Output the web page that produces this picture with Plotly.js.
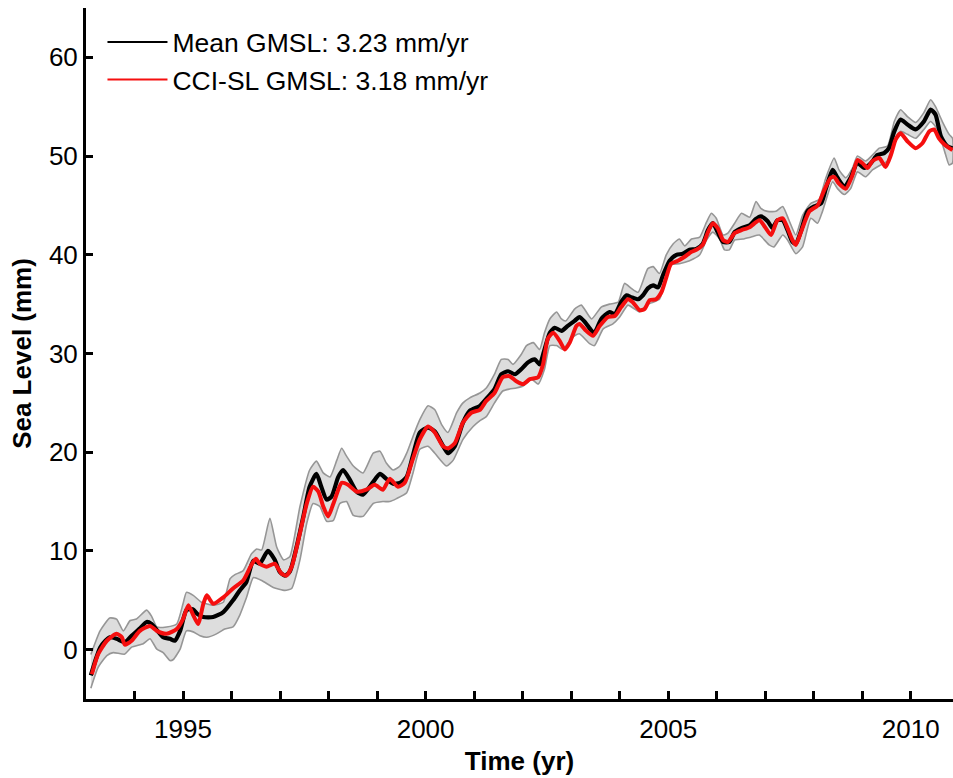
<!DOCTYPE html>
<html>
<head>
<meta charset="utf-8">
<script src="https://cdn.plot.ly/plotly-3.0.1.min.js"></script>
<style>
html,body{margin:0;padding:0;background:#ffffff;}
#chart{width:953px;height:778px;}
</style>
</head>
<body>
<div id="chart"></div>
<script>
// ---- Mean GMSL (black) ----
const meanTime = [1993.10,1993.20,1993.29,1993.40,1993.49,1993.63,1993.80,1993.94,1994.10,1994.25,1994.35,1994.49,1994.59,1994.73,1994.83,1994.94,1995.07,1995.20,1995.30,1995.42,1995.62,1995.83,1996.03,1996.17,1996.30,1996.45,1996.58,1996.75,1996.89,1996.99,1997.10,1997.20,1997.34,1997.48,1997.61,1997.75,1997.85,1997.96,1998.06,1998.20,1998.30,1998.44,1998.58,1998.71,1998.92,1999.06,1999.19,1999.33,1999.47,1999.61,1999.74,1999.88,2000.05,2000.19,2000.33,2000.46,2000.60,2000.77,2000.91,2001.12,2001.25,2001.42,2001.56,2001.70,2001.84,2001.97,2002.11,2002.25,2002.35,2002.45,2002.56,2002.66,2002.80,2002.93,2003.07,2003.17,2003.28,2003.42,2003.48,2003.62,2003.79,2003.90,2004.03,2004.14,2004.24,2004.38,2004.48,2004.58,2004.69,2004.79,2004.89,2005.03,2005.17,2005.30,2005.44,2005.58,2005.71,2005.82,2005.92,2006.02,2006.13,2006.26,2006.37,2006.51,2006.68,2006.80,2006.91,2007.05,2007.15,2007.25,2007.36,2007.46,2007.56,2007.63,2007.73,2007.87,2008.01,2008.15,2008.25,2008.39,2008.49,2008.63,2008.76,2008.90,2009.04,2009.18,2009.31,2009.45,2009.55,2009.66,2009.79,2009.93,2010.10,2010.27,2010.41,2010.51,2010.62,2010.75,2010.86];
const meanGMSL = [-2.6,-1.0,0.2,0.9,1.25,1.1,0.75,1.4,2.1,2.8,2.6,1.8,1.25,1.1,0.9,1.9,4.0,4.1,3.6,3.3,3.3,3.8,5.0,6.0,6.8,9.0,8.7,10.0,9.1,7.9,7.5,7.9,10.4,13.5,16.5,17.8,16.5,15.2,15.5,17.5,18.2,17.2,16.0,15.7,17.0,17.8,17.3,16.8,16.9,17.5,19.7,22.0,22.5,22.1,20.9,19.9,20.6,23.0,24.2,24.7,25.4,26.4,27.9,28.2,27.9,28.4,29.1,29.4,28.9,30.4,32.1,32.6,32.3,32.8,33.3,33.7,33.2,32.3,32.1,33.5,34.2,34.0,35.2,35.9,35.7,35.5,35.9,36.6,36.9,36.7,37.9,39.4,40.0,40.1,40.5,40.6,41.1,42.5,43.2,42.3,41.3,41.3,42.3,42.7,43.0,43.6,43.9,43.4,42.7,43.5,43.5,42.5,41.3,41.1,42.3,44.4,44.9,45.2,46.7,48.6,47.8,46.9,47.8,49.3,48.8,49.3,50.1,50.3,50.8,52.5,53.7,53.2,52.7,53.5,54.7,54.2,52.0,51.0,50.8];

// ---- CCI-SL GMSL (red) ----
const cciTime = [1993.12,1993.25,1993.43,1993.63,1993.74,1993.80,1993.94,1994.11,1994.32,1994.46,1994.66,1994.87,1995.00,1995.11,1995.21,1995.31,1995.42,1995.49,1995.62,1995.83,1996.03,1996.24,1996.41,1996.50,1996.58,1996.72,1996.89,1997.03,1997.13,1997.24,1997.41,1997.55,1997.68,1997.79,1997.89,1997.99,1998.10,1998.27,1998.40,1998.58,1998.78,1998.95,1999.12,1999.26,1999.43,1999.57,1999.71,1999.88,2000.05,2000.19,2000.36,2000.46,2000.60,2000.77,2000.94,2001.12,2001.25,2001.42,2001.59,2001.73,2001.87,2002.01,2002.15,2002.32,2002.42,2002.52,2002.63,2002.76,2002.87,2002.97,2003.11,2003.17,2003.31,2003.45,2003.59,2003.76,2003.90,2004.03,2004.17,2004.27,2004.41,2004.51,2004.62,2004.75,2004.86,2004.96,2005.06,2005.20,2005.34,2005.48,2005.58,2005.71,2005.82,2005.92,2006.02,2006.13,2006.23,2006.37,2006.51,2006.68,2006.88,2007.01,2007.12,2007.25,2007.36,2007.46,2007.56,2007.63,2007.73,2007.91,2008.08,2008.22,2008.35,2008.42,2008.52,2008.66,2008.80,2008.90,2009.00,2009.11,2009.21,2009.35,2009.48,2009.59,2009.69,2009.79,2009.93,2010.10,2010.24,2010.38,2010.48,2010.58,2010.69,2010.86];
const cciGMSL = [-2.5,-0.45,0.9,1.6,1.25,0.5,0.9,1.9,2.4,1.9,1.6,2.1,3.1,4.5,3.5,2.6,4.65,5.5,4.65,5.3,6.2,7.0,8.6,9.2,8.7,8.4,8.7,7.7,7.5,8.4,11.8,14.8,16.5,16.0,14.5,13.5,14.8,16.9,16.7,16.0,16.2,16.7,16.2,17.3,16.5,16.9,18.9,21.3,22.6,22.0,20.6,20.4,20.9,23.0,24.0,24.3,25.2,26.0,27.6,27.7,27.2,26.9,27.4,27.6,28.9,31.5,32.1,31.3,30.4,31.1,32.8,33.0,32.3,31.8,32.8,33.7,33.8,34.7,35.5,35.2,34.4,34.5,35.4,35.5,36.2,37.7,39.1,39.4,39.8,40.3,40.5,41.0,42.3,43.2,42.7,41.5,41.3,42.2,42.5,42.8,43.5,42.7,42.0,43.5,43.7,42.7,41.5,41.0,42.2,44.4,45.0,46.6,47.8,47.9,47.2,46.7,48.1,49.6,49.3,48.8,49.5,49.8,48.9,50.1,51.7,52.3,51.5,50.8,51.3,52.5,52.7,51.8,51.2,50.6];

// ---- Uncertainty envelope (grey) ----
const upperTime = [1993.10,1993.29,1993.49,1993.63,1993.77,1993.91,1994.04,1994.25,1994.35,1994.46,1994.66,1994.87,1995.00,1995.07,1995.21,1995.38,1995.62,1995.83,1995.97,1996.07,1996.24,1996.41,1996.52,1996.62,1996.79,1996.93,1997.07,1997.20,1997.41,1997.61,1997.75,1997.89,1998.03,1998.17,1998.27,1998.37,1998.51,1998.71,1998.92,1999.06,1999.19,1999.33,1999.47,1999.61,1999.74,1999.88,2000.05,2000.19,2000.33,2000.46,2000.64,2000.77,2000.91,2001.12,2001.25,2001.42,2001.56,2001.70,2001.80,2001.97,2002.08,2002.22,2002.35,2002.45,2002.56,2002.70,2002.80,2002.89,2003.07,2003.21,2003.42,2003.62,2003.79,2003.97,2004.10,2004.24,2004.38,2004.58,2004.69,2004.82,2004.96,2005.10,2005.23,2005.34,2005.48,2005.65,2005.79,2005.89,2005.99,2006.13,2006.23,2006.37,2006.51,2006.68,2006.81,2006.91,2007.05,2007.22,2007.36,2007.49,2007.63,2007.77,2007.94,2008.11,2008.25,2008.42,2008.52,2008.66,2008.80,2008.90,2009.07,2009.21,2009.35,2009.52,2009.66,2009.79,2009.93,2010.10,2010.27,2010.41,2010.51,2010.65,2010.79,2010.86];
const upperGMSL = [-0.5,1.9,3.2,3.1,1.9,2.95,3.1,4.0,3.4,2.3,2.3,2.6,4.65,5.8,5.5,4.8,4.5,4.8,7.2,7.6,8.0,9.7,10.2,10.1,13.3,10.4,9.1,9.4,14.5,18.2,19.1,17.9,17.5,19.2,20.4,19.6,18.6,17.9,19.9,20.1,18.9,18.2,18.6,19.9,21.6,23.3,24.7,24.3,22.8,22.0,24.0,25.0,25.5,26.0,26.5,27.9,29.4,29.4,28.9,29.9,30.8,31.1,30.4,32.1,33.5,34.2,33.5,33.3,34.5,34.9,33.5,34.7,35.0,35.2,37.1,36.6,36.2,38.6,38.8,38.1,40.0,41.1,41.6,40.9,41.6,41.8,43.3,44.2,43.7,42.0,42.2,43.2,44.2,43.8,45.4,44.7,44.4,44.4,44.9,43.5,42.0,44.0,45.2,45.6,47.8,49.8,48.6,47.8,48.8,50.0,49.5,50.1,50.8,51.0,53.5,54.7,54.0,53.4,54.4,55.7,55.0,53.5,52.2,51.8];
const lowerTime = [1993.10,1993.25,1993.43,1993.56,1993.80,1993.94,1994.18,1994.32,1994.46,1994.59,1994.73,1994.80,1994.94,1995.07,1995.21,1995.35,1995.49,1995.69,1995.86,1996.03,1996.17,1996.31,1996.45,1996.62,1996.86,1997.10,1997.24,1997.41,1997.55,1997.68,1997.82,1997.96,1998.10,1998.23,1998.37,1998.51,1998.71,1998.92,1999.12,1999.26,1999.40,1999.61,1999.74,1999.88,2000.05,2000.19,2000.43,2000.57,2000.77,2000.98,2001.12,2001.25,2001.42,2001.59,2001.73,2001.87,2002.01,2002.18,2002.32,2002.45,2002.56,2002.70,2002.83,2002.97,2003.07,2003.17,2003.38,2003.48,2003.66,2003.86,2004.00,2004.17,2004.31,2004.41,2004.55,2004.69,2004.82,2004.96,2005.06,2005.23,2005.44,2005.65,2005.79,2005.92,2006.06,2006.16,2006.26,2006.37,2006.54,2006.71,2006.88,2007.08,2007.18,2007.36,2007.46,2007.63,2007.77,2007.94,2008.08,2008.18,2008.39,2008.49,2008.63,2008.76,2008.90,2009.07,2009.21,2009.38,2009.52,2009.66,2009.79,2009.93,2010.10,2010.27,2010.41,2010.55,2010.72,2010.79,2010.86];
const lowerGMSL = [-3.9,-1.8,-0.6,-0.3,-0.45,0.25,0.6,1.1,0.05,-0.3,-1.1,-1.0,0.05,1.9,1.8,1.4,1.25,1.6,2.1,2.3,3.5,5.3,7.3,7.0,6.3,6.0,6.2,9.1,12.8,14.8,14.5,13.0,13.1,14.8,15.0,13.6,13.5,14.8,15.0,15.0,15.3,15.9,17.9,20.3,20.6,19.9,18.6,19.2,21.3,22.6,23.2,23.6,25.0,26.2,26.4,26.5,26.7,27.4,26.9,28.4,30.8,30.8,30.4,31.3,31.8,32.0,31.0,30.8,32.5,33.0,33.7,34.9,34.5,34.2,34.9,35.2,35.5,37.6,39.0,39.1,39.4,40.0,41.5,42.3,41.6,40.5,40.5,41.5,41.6,41.8,42.0,41.0,40.8,42.0,41.5,40.1,40.8,43.7,43.2,44.4,47.4,46.7,46.1,46.7,48.4,47.9,48.6,49.1,49.5,51.5,52.5,52.2,51.8,52.7,53.5,52.7,50.1,49.1,49.3];

// ---- Axis ticks and labels ----
const xTickVals = [1994,1995,1996,1997,1998,1999,2000,2001,2002,2003,2004,2005,2006,2007,2008,2009,2010];
const xTickText = ['','1995','','','','','2000','','','','','2005','','','','','2010'];
const yTickVals = [0,10,20,30,40,50,60];
const seriesNames = ['Mean GMSL: 3.23 mm/yr','CCI-SL GMSL: 3.18 mm/yr'];

const FONT = 'Liberation Sans, Arial, Helvetica, sans-serif';
const RED = '#f50f0f';

const bandX = upperTime.concat(lowerTime.slice().reverse());
const bandY = upperGMSL.concat(lowerGMSL.slice().reverse());

const traces = [
  {x: bandX, y: bandY, type: 'scatter', mode: 'lines', fill: 'toself',
   fillcolor: 'rgb(221,221,221)', line: {color: 'rgb(150,150,150)', width: 1.6, shape: 'spline', smoothing: 0.5},
   showlegend: false, hoverinfo: 'skip'},
  {x: meanTime, y: meanGMSL, type: 'scatter', mode: 'lines',
   line: {color: '#000000', width: 4.2, shape: 'spline', smoothing: 0.6}, showlegend: false},
  {x: cciTime, y: cciGMSL, type: 'scatter', mode: 'lines',
   line: {color: RED, width: 4, shape: 'spline', smoothing: 0.6}, showlegend: false},
  // legend-only entries (thin lines as in the reference key)
  {x: [null], y: [null], type: 'scatter', mode: 'lines', name: seriesNames[0],
   line: {color: '#000000', width: 2}, legendgroup: 'a'},
  {x: [null], y: [null], type: 'scatter', mode: 'lines', name: seriesNames[1],
   line: {color: RED, width: 2}, legendgroup: 'b'}
];

const layout = {
  width: 953, height: 778,
  margin: {l: 86, r: 0, t: 8, b: 79, pad: 0},
  paper_bgcolor: '#ffffff', plot_bgcolor: '#ffffff',
  font: {family: FONT, color: '#000000', size: 25},
  showlegend: true,
  legend: {x: 0.019, y: 0.985, xanchor: 'left', yanchor: 'top',
           bgcolor: 'rgba(0,0,0,0)', borderwidth: 0,
           font: {family: FONT, size: 26.5, color: '#000'},
           itemwidth: 60, tracegroupgap: 0, traceorder: 'grouped'},
  xaxis: {range: [1993, 2010.87], tickmode: 'array', tickvals: xTickVals, ticktext: xTickText,
          ticks: 'inside', ticklen: 8, tickwidth: 3, tickcolor: '#000',
          showline: true, linewidth: 3, linecolor: '#000', mirror: false,
          showgrid: false, zeroline: false, ticklabelstandoff: 5,
          tickfont: {family: FONT, size: 26, color: '#000'},
          title: {text: '<b>Time (yr)</b>', font: {family: FONT, size: 26, color: '#000'}, standoff: 9}},
  yaxis: {range: [-5, 65], tickmode: 'array', tickvals: yTickVals,
          ticks: 'inside', ticklen: 7, tickwidth: 3, tickcolor: '#000',
          showline: true, linewidth: 3, linecolor: '#000', mirror: false,
          showgrid: false, zeroline: false,
          tickfont: {family: FONT, size: 26, color: '#000'},
          title: {text: '<b>Sea Level (mm)</b>', font: {family: FONT, size: 26, color: '#000'}, standoff: 10}}
};

Plotly.newPlot('chart', traces, layout, {displayModeBar: false, staticPlot: true});
</script>
</body>
</html>
